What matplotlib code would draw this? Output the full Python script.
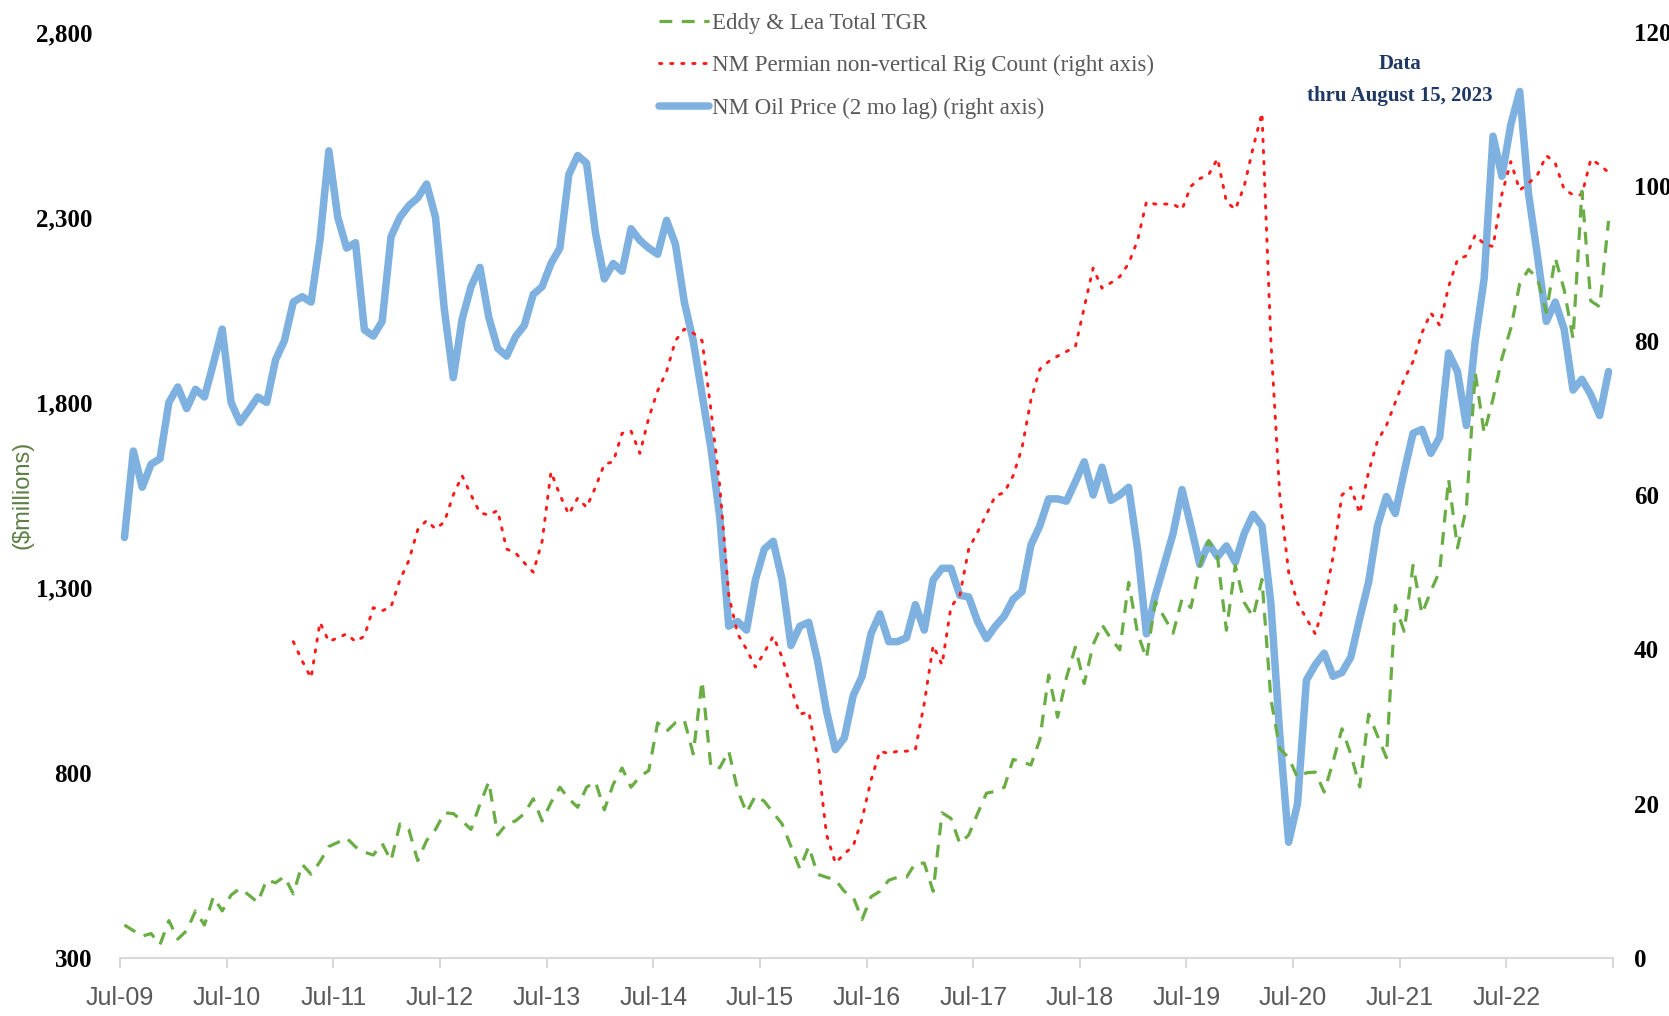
import numpy as np
import matplotlib
matplotlib.use('Agg')
import matplotlib.pyplot as plt
from matplotlib.ticker import FuncFormatter

# monthly data, Jul-09 .. Jun-23 (168 months)
tick_labels = ['Jul-09', 'Jul-10', 'Jul-11', 'Jul-12', 'Jul-13', 'Jul-14', 'Jul-15',
               'Jul-16', 'Jul-17', 'Jul-18', 'Jul-19', 'Jul-20', 'Jul-21', 'Jul-22', '']

# Eddy & Lea Total TGR ($millions, left axis)
tgr = [389, 374, 359, 366, 336, 401, 351, 374, 427, 389,
       465, 427, 470, 488, 470, 450, 511, 503, 520, 473,
       553, 526, 560, 601, 612, 624, 600, 586, 578, 609,
       563, 662, 647, 563, 617, 647, 692, 690, 670, 647,
       715, 776, 632, 662, 670, 690, 730, 670, 720, 761,
       730, 707, 761, 776, 700, 769, 813, 761, 790, 806,
       935, 912, 935, 942, 851, 1048, 814, 814, 859, 753,
       692, 738, 723, 692, 662, 601, 541, 601, 526, 518,
       511, 480, 465, 404, 465, 480, 510, 518, 518, 556,
       556, 480, 692, 677, 609, 632, 690, 745, 750, 761,
       836, 830, 821, 889, 1064, 950, 1057, 1139, 1041, 1146,
       1200, 1162, 1132, 1314, 1177, 1109, 1261, 1220, 1177, 1269,
       1246, 1359, 1427, 1382, 1185, 1360, 1260, 1221, 1322, 1000,
       865, 841, 787, 800, 802, 748, 830, 919, 850, 762,
       958, 900, 841, 1252, 1182, 1360, 1229, 1290, 1345, 1593,
       1407, 1515, 1880, 1717, 1810, 1919, 2000, 2120, 2159, 2135,
       2043, 2190, 2105, 1973, 2370, 2074, 2058, 2290]

# NM Permian non-vertical rig count (right axis), starts Feb-11
rigs = [np.nan] * 19 + [
       41, 38.5, 36.3, 43.5, 41, 41.5, 42, 41, 41.7, 45.4, 45,
       45.5, 49, 51.5, 55.5, 56.7, 55.6, 56.5, 60, 62.5, 60,
       57.7, 57.4, 58, 53, 52.5, 51.2, 50, 54, 63, 60,
       57.5, 59.6, 58.4, 61, 64, 64.3, 68, 68.3, 65.4, 70,
       73.5, 76, 80, 81.5, 81, 80, 71, 61, 47, 42,
       40, 37.7, 39.6, 41.7, 39, 35, 31.6, 31.9, 26, 16,
       12.3, 13.5, 14.5, 18, 23, 26.8, 26.5, 26.8, 26.8, 27,
       33, 40.5, 38, 45.5, 47, 53, 55.2, 57.5, 59.9, 60.3,
       62.5, 66.1, 72.3, 76.3, 77.3, 78, 78.6, 79.2, 84.3, 89.4,
       86.8, 87.5, 88.3, 90, 93, 98, 97.7, 97.7, 97.7, 97,
       100, 101, 101.5, 103.6, 98, 97, 100, 105, 109.5, 80,
       60, 50, 46, 44, 42, 46, 52, 60, 61, 57.6,
       63, 67, 69, 72, 75, 77.3, 81, 83.6, 82, 87,
       90.5, 91, 93.7, 92.5, 92.2, 99, 103.2, 99.5, 100.4, 101.5,
       104, 103, 99.6, 98.9, 98.9, 103.5, 102.8, 101.8]

# NM oil price, 2 month lag (right axis)
oil = [54.5, 65.7, 61, 64, 64.7, 72, 74, 71.2, 73.7, 72.7,
       77, 81.5, 72, 69.4, 71, 72.7, 72, 77.5, 80, 85,
       85.7, 85, 93, 104.6, 96, 92, 92.7, 81.4, 80.6, 82.5,
       93.5, 96, 97.5, 98.5, 100.3, 96, 84, 75.2, 82.8, 87,
       89.5, 83, 79, 78, 80.5, 82, 86, 87, 90, 92,
       101.5, 104, 103, 94, 88, 90, 89, 94.5, 93, 92,
       91.2, 95.6, 92.5, 85, 80, 73, 66, 57, 43, 43.6,
       42.5, 49, 53, 54, 49, 40.5, 43, 43.5, 38.5, 32,
       27, 28.5, 34, 36.5, 42, 44.6, 41, 41, 41.5, 45.8,
       42.5, 49, 50.5, 50.5, 47, 46.8, 43.6, 41.4, 43, 44.3,
       46.5, 47.5, 53.5, 56, 59.5, 59.5, 59.2, 61.7, 64.3, 60,
       63.6, 59.3, 60, 61, 53, 42, 47, 51, 55, 60.7,
       56, 51, 53.7, 52, 53.4, 51.3, 55, 57.5, 56, 46,
       29, 15, 20, 36, 38, 39.5, 36.5, 37, 39, 44,
       48.7, 56, 59.8, 57.6, 63, 68, 68.5, 65.4, 67.5, 78.4,
       76, 69, 80, 88, 106.5, 101.3, 108, 112.3, 99, 91,
       82.5, 85, 81.5, 73.6, 75, 73, 70.3, 76]

x = np.arange(len(oil))

green = '#6AAD45'
red = '#FF1A1A'
blue = '#7EB1DF'

fig = plt.figure(figsize=(16.69, 10.16), dpi=100)
ax1 = fig.add_subplot(111)
fig.subplots_adjust(left=120 / 1669, right=1613 / 1669, top=1 - 32 / 1016, bottom=1 - 958 / 1016)
ax2 = ax1.twinx()

# left axis series on top of right axis series
ax1.set_zorder(ax2.get_zorder() + 1)
ax1.patch.set_visible(False)

l_oil, = ax2.plot(x, oil, color=blue, lw=5.4, solid_capstyle='round', solid_joinstyle='round',
                  label='NM Oil Price (2 mo lag) (right axis)')
l_rig, = ax2.plot(x, rigs, color=red, lw=2.1, linestyle=(0, (0.8, 3.0)), dash_capstyle='round',
                  label='NM Permian non-vertical Rig Count (right axis)')
l_tgr, = ax1.plot(x, tgr, color=green, lw=2.3, linestyle=(0, (4, 3)),
                  label='Eddy & Lea Total TGR')

ax1.set_xlim(-0.5, 167.5)
ax1.set_ylim(300, 2800)
ax2.set_ylim(0, 120)
ax1.set_yticks(range(300, 2801, 500))
ax2.set_yticks(range(0, 121, 20))
ax1.yaxis.set_major_formatter(FuncFormatter(lambda v, p: '{:,.0f}'.format(v)))

ax1.set_xticks(np.arange(-0.5, 168, 12))
ax1.set_xticklabels(tick_labels)

for s in ['top', 'left', 'right']:
    ax1.spines[s].set_visible(False)
    ax2.spines[s].set_visible(False)
ax2.spines['bottom'].set_visible(False)
ax1.spines['bottom'].set_color('#D9D9D9')
ax1.spines['bottom'].set_linewidth(1.5)

ax1.tick_params(axis='x', direction='out', length=7, width=1.5, color='#D9D9D9',
                pad=13, labelsize=18, labelcolor='#595959')
ax1.tick_params(axis='y', length=0, pad=20, labelsize=18)
ax2.tick_params(axis='y', length=0, pad=15, labelsize=18)

for lab in ax1.get_xticklabels():
    lab.set_family(['Liberation Sans Narrow', 'Liberation Sans', 'DejaVu Sans'])
for lab in ax1.get_yticklabels() + ax2.get_yticklabels():
    lab.set_family('Liberation Serif')
    lab.set_fontweight('bold')

ax1.set_ylabel('($millions)', color='#5E7F45', fontsize=17,
               family=['Liberation Sans', 'DejaVu Sans'])
ax1.yaxis.set_label_coords(-0.058, 0.5)

leg = fig.legend(handles=[l_tgr, l_rig, l_oil], loc='upper left',
                 bbox_to_anchor=(638 / 1669, 1.008), frameon=False,
                 prop={'family': 'Liberation Serif', 'size': 16.5},
                 handlelength=2.2, handletextpad=0.12, labelspacing=0.95)
for t in leg.get_texts():
    t.set_color('#595959')

fig.text(1400 / 1669, 1 - 64 / 1016, 'Data', ha='center', va='center', fontsize=15,
         fontweight='bold', family='Liberation Serif', color='#1F3864')
fig.text(1400 / 1669, 1 - 96 / 1016, 'thru August 15, 2023', ha='center', va='center',
         fontsize=15, fontweight='bold', family='Liberation Serif', color='#1F3864')

fig.savefig('out.png', dpi=100, facecolor='white')
